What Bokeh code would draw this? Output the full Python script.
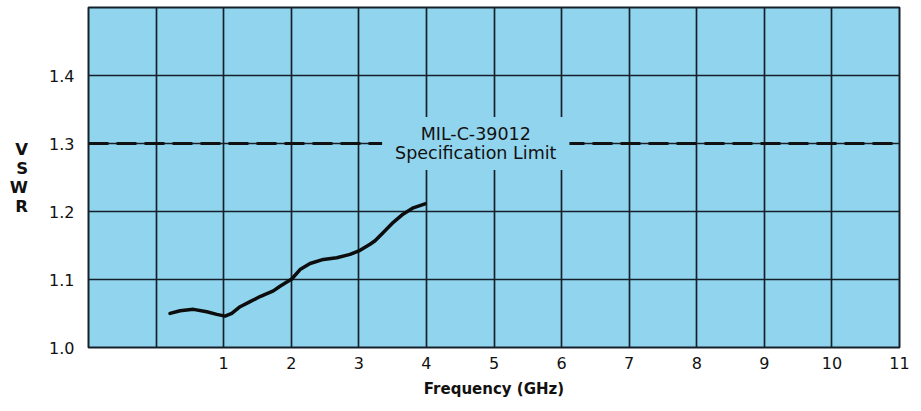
from bokeh.plotting import figure
from bokeh.models import Range1d, FixedTicker, Span, Label
from bokeh.embed import file_html
from bokeh.resources import INLINE

# data
freq_ghz = [0.207, 0.355, 0.552, 0.750, 0.898, 1.021, 1.120, 1.243, 1.391, 1.538, 1.735, 1.834,
            2.007, 2.130, 2.278, 2.475, 2.673, 2.870, 3.018, 3.166, 3.240, 3.362, 3.510, 3.658,
            3.806, 3.979]
vswr = [1.0501, 1.0540, 1.0561, 1.0525, 1.0487, 1.0461, 1.0501, 1.0600, 1.0674, 1.0749, 1.0833,
        1.0900, 1.1007, 1.1146, 1.1235, 1.1295, 1.1320, 1.1369, 1.1429, 1.1518, 1.1570, 1.1692,
        1.1841, 1.1964, 1.2054, 1.2113]
x_ticks = [0, 1, 2, 3, 4, 5, 6, 7, 8, 9, 10, 11]
y_ticks = [1.0, 1.1, 1.2, 1.3, 1.4]
spec_limit = 1.3
spec_text = "MIL-C-39012\nSpecification Limit"

BG = "#91d4ee"
INK = "#16202b"

p = figure(width=913, height=403, output_backend="svg", toolbar_location=None,
           x_range=Range1d(-1, 11), y_range=Range1d(1.0, 1.5),
           min_border_left=88, min_border_right=14, min_border_top=7, min_border_bottom=56)

p.background_fill_color = BG
p.border_fill_color = "white"
p.outline_line_color = INK
p.outline_line_width = 2

p.xaxis.ticker = FixedTicker(ticks=x_ticks)
p.yaxis.ticker = FixedTicker(ticks=y_ticks)
p.xaxis.major_label_overrides = {0: ""}
p.yaxis.major_label_overrides = {t: f"{t:.1f}" for t in y_ticks}

for ax in (p.xaxis, p.yaxis):
    ax.axis_line_color = None
    ax.major_tick_line_color = None
    ax.minor_tick_line_color = None
    ax.major_tick_out = 0
    ax.major_tick_in = 0
    ax.minor_tick_out = 0
    ax.minor_tick_in = 0
    ax.major_label_text_font = "DejaVu Sans"
    ax.major_label_text_font_size = "16px"
    ax.major_label_text_color = "#111111"
    ax.major_label_text_font_style = "normal"

p.xaxis.major_label_standoff = 9
p.yaxis.major_label_standoff = 14

p.xaxis.axis_label = "Frequency (GHz)"
p.xaxis.axis_label_text_font = "DejaVu Sans"
p.xaxis.axis_label_text_font_size = "15px"
p.xaxis.axis_label_text_font_style = "bold"
p.xaxis.axis_label_text_color = "#111111"
p.xaxis.axis_label_standoff = 8

p.yaxis.axis_label = "V\nS\nW\nR"
p.yaxis.axis_label_orientation = "horizontal"
p.yaxis.axis_label_text_font = "DejaVu Sans"
p.yaxis.axis_label_text_font_size = "16.5px"
p.yaxis.axis_label_text_font_style = "bold"
p.yaxis.axis_label_text_color = "#111111"
p.yaxis.axis_label_text_line_height = 1.0
p.yaxis.axis_label_standoff = 18

p.xgrid.grid_line_color = INK
p.xgrid.grid_line_width = 1.7
p.ygrid.grid_line_color = INK
p.ygrid.grid_line_width = 1.7

# spec limit dashed line
p.add_layout(Span(location=spec_limit, dimension="width", line_color="#111111",
                  line_width=3.2, line_dash="20 8"))

# label with box covering grid
p.add_layout(Label(x=4.73, y=spec_limit, text=spec_text, text_align="center",
                   text_baseline="middle", text_font="DejaVu Sans", text_font_size="17.5px",
                   text_color="#111111", text_line_height=0.95,
                   background_fill_color=BG,
                   padding=dict(left=13, right=13, top=7, bottom=7)))

# curve
p.line(freq_ghz, vswr, line_color="#0d0d0d", line_width=3.5, line_cap="round", line_join="round")

open("out.html", "w").write(file_html(p, INLINE))
